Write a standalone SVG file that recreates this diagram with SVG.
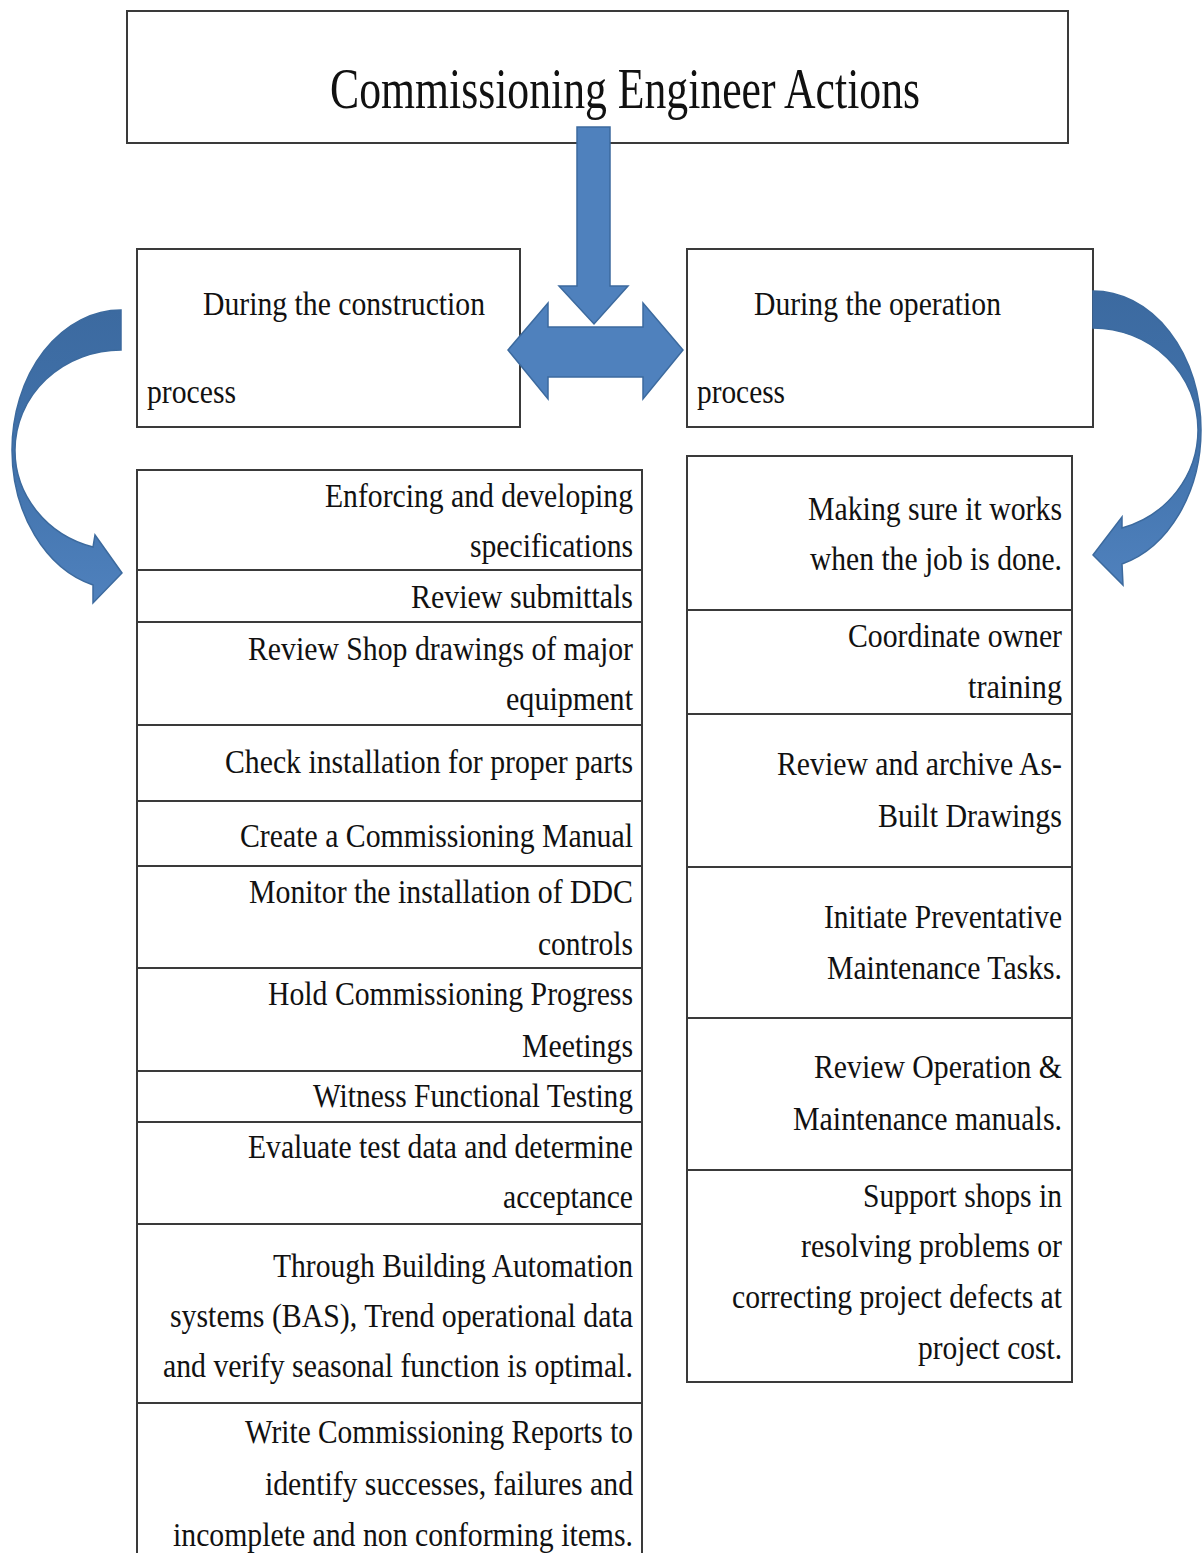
<svg xmlns="http://www.w3.org/2000/svg" width="1202" height="1553" viewBox="0 0 1202 1553">
<style>
.box{fill:#ffffff;stroke:#3a3a3a;stroke-width:2}
.t{font-family:"Liberation Serif","Times New Roman",serif;font-size:33px;fill:#111111}
.r{text-anchor:end}
.title{font-family:"Liberation Serif","Times New Roman",serif;font-size:56px;fill:#111111}
.arrow{fill:#4f81bd;stroke:#3c6a9e;stroke-width:1.5;stroke-linejoin:miter}
.curve{stroke:#3c6a9e;stroke-width:1.5}
</style>
<defs>
<linearGradient id="gl" x1="0" y1="0" x2="0" y2="1">
<stop offset="0" stop-color="#3c6aa0"/>
<stop offset="0.5" stop-color="#4172ab"/>
<stop offset="1" stop-color="#4f81bd"/>
</linearGradient>
</defs>
<rect width="1202" height="1553" fill="#ffffff"/>

<g id="title">
<rect class="box" x="127" y="11" width="941" height="132"/>
<text class="title" x="330" y="108" textLength="590" lengthAdjust="spacingAndGlyphs">Commissioning Engineer Actions</text>
</g>

<g id="construction">
<rect class="box" x="137" y="249" width="383" height="178"/>
<text class="t" x="203" y="315" textLength="282" lengthAdjust="spacingAndGlyphs">During the construction</text>
<text class="t" x="147" y="403" textLength="89" lengthAdjust="spacingAndGlyphs">process</text>
</g>

<g id="operation">
<rect class="box" x="687" y="249" width="406" height="178"/>
<text class="t" x="754" y="315" textLength="247" lengthAdjust="spacingAndGlyphs">During the operation</text>
<text class="t" x="697" y="403" textLength="88" lengthAdjust="spacingAndGlyphs">process</text>
</g>

<g id="c1">
<rect class="box" x="137" y="470" width="505" height="100"/>
<text class="t r" x="633" y="507" textLength="308" lengthAdjust="spacingAndGlyphs">Enforcing and developing</text>
<text class="t r" x="633" y="557" textLength="163" lengthAdjust="spacingAndGlyphs">specifications</text>
</g>
<g id="c2">
<rect class="box" x="137" y="570" width="505" height="52"/>
<text class="t r" x="633" y="608" textLength="222" lengthAdjust="spacingAndGlyphs">Review submittals</text>
</g>
<g id="c3">
<rect class="box" x="137" y="622" width="505" height="103"/>
<text class="t r" x="633" y="660" textLength="385" lengthAdjust="spacingAndGlyphs">Review Shop drawings of major</text>
<text class="t r" x="633" y="710" textLength="127" lengthAdjust="spacingAndGlyphs">equipment</text>
</g>
<g id="c4">
<rect class="box" x="137" y="725" width="505" height="76"/>
<text class="t r" x="633" y="773" textLength="408" lengthAdjust="spacingAndGlyphs">Check installation for proper parts</text>
</g>
<g id="c5">
<rect class="box" x="137" y="801" width="505" height="65"/>
<text class="t r" x="633" y="847" textLength="393" lengthAdjust="spacingAndGlyphs">Create a Commissioning Manual</text>
</g>
<g id="c6">
<rect class="box" x="137" y="866" width="505" height="102"/>
<text class="t r" x="633" y="903" textLength="384" lengthAdjust="spacingAndGlyphs">Monitor the installation of DDC</text>
<text class="t r" x="633" y="955" textLength="95" lengthAdjust="spacingAndGlyphs">controls</text>
</g>
<g id="c7">
<rect class="box" x="137" y="968" width="505" height="103"/>
<text class="t r" x="633" y="1005" textLength="365" lengthAdjust="spacingAndGlyphs">Hold Commissioning Progress</text>
<text class="t r" x="633" y="1057" textLength="111" lengthAdjust="spacingAndGlyphs">Meetings</text>
</g>
<g id="c8">
<rect class="box" x="137" y="1071" width="505" height="51"/>
<text class="t r" x="633" y="1107" textLength="320" lengthAdjust="spacingAndGlyphs">Witness Functional Testing</text>
</g>
<g id="c9">
<rect class="box" x="137" y="1122" width="505" height="102"/>
<text class="t r" x="633" y="1158" textLength="385" lengthAdjust="spacingAndGlyphs">Evaluate test data and determine</text>
<text class="t r" x="633" y="1208" textLength="130" lengthAdjust="spacingAndGlyphs">acceptance</text>
</g>
<g id="c10">
<rect class="box" x="137" y="1224" width="505" height="179"/>
<text class="t r" x="633" y="1277" textLength="360" lengthAdjust="spacingAndGlyphs">Through Building Automation</text>
<text class="t r" x="633" y="1327" textLength="463" lengthAdjust="spacingAndGlyphs">systems (BAS), Trend operational data</text>
<text class="t r" x="633" y="1377" textLength="470" lengthAdjust="spacingAndGlyphs">and verify  seasonal function is optimal.</text>
</g>
<g id="c11">
<rect class="box" x="137" y="1403" width="505" height="160"/>
<text class="t r" x="633" y="1443" textLength="388" lengthAdjust="spacingAndGlyphs">Write Commissioning Reports to</text>
<text class="t r" x="633" y="1495" textLength="368" lengthAdjust="spacingAndGlyphs">identify successes, failures and</text>
<text class="t r" x="633" y="1546" textLength="460" lengthAdjust="spacingAndGlyphs">incomplete and non conforming items.</text>
</g>

<g id="o1">
<rect class="box" x="687" y="456" width="385" height="154"/>
<text class="t r" x="1062" y="520" textLength="254" lengthAdjust="spacingAndGlyphs">Making sure it works</text>
<text class="t r" x="1062" y="570" textLength="252" lengthAdjust="spacingAndGlyphs">when the job is done.</text>
</g>
<g id="o2">
<rect class="box" x="687" y="610" width="385" height="104"/>
<text class="t r" x="1062" y="647" textLength="214" lengthAdjust="spacingAndGlyphs">Coordinate owner</text>
<text class="t r" x="1062" y="698" textLength="94" lengthAdjust="spacingAndGlyphs">training</text>
</g>
<g id="o3">
<rect class="box" x="687" y="714" width="385" height="153"/>
<text class="t r" x="1062" y="775" textLength="285" lengthAdjust="spacingAndGlyphs">Review and archive As-</text>
<text class="t r" x="1062" y="827" textLength="184" lengthAdjust="spacingAndGlyphs">Built Drawings</text>
</g>
<g id="o4">
<rect class="box" x="687" y="867" width="385" height="151"/>
<text class="t r" x="1062" y="928" textLength="238" lengthAdjust="spacingAndGlyphs">Initiate Preventative</text>
<text class="t r" x="1062" y="979" textLength="235" lengthAdjust="spacingAndGlyphs">Maintenance Tasks.</text>
</g>
<g id="o5">
<rect class="box" x="687" y="1018" width="385" height="152"/>
<text class="t r" x="1062" y="1078" textLength="248" lengthAdjust="spacingAndGlyphs">Review Operation &amp;</text>
<text class="t r" x="1062" y="1130" textLength="269" lengthAdjust="spacingAndGlyphs">Maintenance manuals.</text>
</g>
<g id="o6">
<rect class="box" x="687" y="1170" width="385" height="212"/>
<text class="t r" x="1062" y="1207" textLength="199" lengthAdjust="spacingAndGlyphs">Support shops in</text>
<text class="t r" x="1062" y="1257" textLength="261" lengthAdjust="spacingAndGlyphs">resolving problems or</text>
<text class="t r" x="1062" y="1308" textLength="330" lengthAdjust="spacingAndGlyphs">correcting project defects at</text>
<text class="t r" x="1062" y="1359" textLength="144" lengthAdjust="spacingAndGlyphs">project cost.</text>
</g>

<g id="connectors">
<path class="arrow" d="M577 127 L610 127 L610 286 L628 286 L594 324 L559 286 L577 286 Z"/>
<path class="arrow" d="M508 350 L548 303 L548 327 L643 327 L643 303 L683 350 L643 399 L643 377 L548 377 L548 399 Z"/>
<path class="curve" fill="url(#gl)" d="M121 310 A109 140 0 0 0 12 450 A109 140 0 0 0 93 585 L93 603 L122 573 L95 535 L93 547 A106 100 0 0 1 15 450 A106 100 0 0 1 121 350 Z"/>
<path class="curve" fill="url(#gl)" d="M1093 291 A108 139 0 0 1 1201 430 A108 139 0 0 1 1122 564 L1123 585 L1093 555 L1122 517 L1122 528 A105 102 0 0 0 1198 430 A105 102 0 0 0 1093 328 Z"/>
</g>
</svg>
